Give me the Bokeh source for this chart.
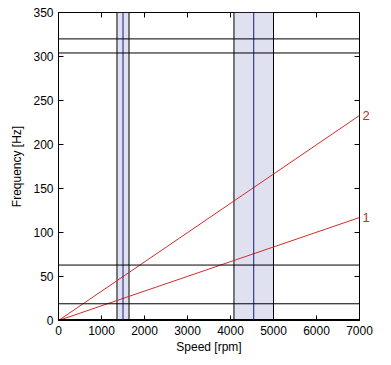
from bokeh.plotting import figure
from bokeh.models import LinearAxis, Range1d, Span, BoxAnnotation, FixedTicker
from bokeh.embed import file_html
from bokeh.resources import INLINE
import math

# data
speed = [0, 7000]
order1 = [0, 117]
order2 = [0, 233]
order_labels = ["1", "2"]
order_ends = [117, 233]
hlines = [19, 63, 304, 320]
band_lo = [1360, 4080]
band_hi = [1640, 5000]
band_center = [1500, 4540]
xticks = [0, 1000, 2000, 3000, 4000, 5000, 6000, 7000]
yticks = [0, 50, 100, 150, 200, 250, 300, 350]

FONT = "Liberation Sans"
XMAX, YMAX = 7000, 350

p = figure(frame_width=301, frame_height=308, output_backend="svg", toolbar_location=None,
           x_range=Range1d(0, XMAX), y_range=Range1d(0, YMAX),
           min_border_left=58, min_border_right=32, min_border_top=12, min_border_bottom=45)
p.xgrid.visible = False
p.ygrid.visible = False
p.outline_line_color = "black"
p.outline_line_width = 1
p.background_fill_color = "white"
p.border_fill_color = "white"

for ax, ticks in ((p.xaxis[0], xticks), (p.yaxis[0], yticks)):
    ax.ticker = FixedTicker(ticks=ticks)
    ax.major_tick_in = 5
    ax.major_tick_out = 0
    ax.minor_tick_line_color = None
    ax.axis_line_color = "black"
    ax.major_label_text_font = FONT
    ax.major_label_text_font_size = "12px"
    ax.major_label_text_color = "black"
    ax.axis_label_text_font = FONT
    ax.axis_label_text_font_size = "12px"
    ax.axis_label_text_font_style = "normal"
    ax.axis_label_text_color = "black"
p.xaxis[0].axis_label = "Speed [rpm]"
p.yaxis[0].axis_label = "Frequency [Hz]"
p.xaxis[0].axis_label_standoff = 2
p.yaxis[0].axis_label_standoff = 6

# order labels on the right side
rax = LinearAxis(ticker=FixedTicker(ticks=order_ends),
                 major_label_overrides={v: t for v, t in zip(order_ends, order_labels)},
                 major_tick_line_color=None, minor_tick_line_color=None, axis_line_color=None,
                 major_label_standoff=-3, major_label_text_font=FONT,
                 major_label_text_font_size="13px", major_label_text_color="#b83030")
p.add_layout(rax, "right")

for lo, hi, c in zip(band_lo, band_hi, band_center):
    p.add_layout(BoxAnnotation(left=lo, right=hi, fill_color="#dfe1f1", fill_alpha=1,
                               line_color="black", line_alpha=1, line_width=1, level="underlay"))
    p.add_layout(Span(location=c, dimension="height", line_color="#1a1a80", line_width=1))

for h in hlines:
    p.add_layout(Span(location=h, dimension="width", line_color="black", line_width=1))

p.line(speed, order1, line_color="#d42a2a", line_width=1)
p.line(speed, order2, line_color="#d42a2a", line_width=1)
p.line(speed, [0, 0], line_color="black", line_width=3)

# inward ticks on top and right edges
p.scatter(xticks, [YMAX] * len(xticks), marker="dash", angle=math.pi / 2, size=10,
          line_color="black", line_width=1)
p.scatter([XMAX] * len(yticks), yticks, marker="dash", size=10,
          line_color="black", line_width=1)

open("out.html", "w").write(file_html(p, INLINE))
